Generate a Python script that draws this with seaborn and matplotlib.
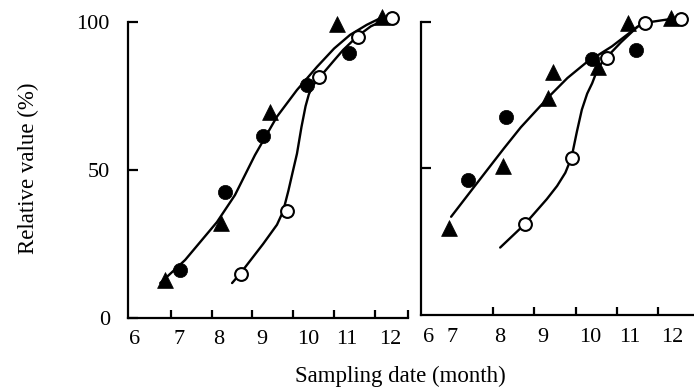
import numpy as np
import pandas as pd
import seaborn as sns
import matplotlib.pyplot as plt
from matplotlib.ticker import FixedLocator, NullFormatter

sns.set_theme(style="white")
plt.rcParams['font.family'] = ['Liberation Serif', 'DejaVu Serif']

month_labels = ["6", "7", "8", "9", "10", "11", "12"]

# ---- Left panel ----
L_tri_x = [6.86, 8.23, 9.43, 11.07, 12.18]
L_tri_y = [12.8, 32.0, 69.6, 99.3, 101.8]
L_dot_x = [7.23, 8.33, 9.26, 10.34, 11.37]
L_dot_y = [16.2, 42.6, 61.5, 78.7, 89.5]
L_open_x = [8.72, 9.85, 10.63, 11.59, 12.42]
L_open_y = [14.9, 36.1, 81.4, 95.0, 101.3]

L_fit1_x = [6.74, 7.35, 8.13, 8.57, 9.06, 9.60, 10.09, 10.58, 11.00, 11.39, 11.80, 12.20]
L_fit1_y = [11.8, 19.6, 32.4, 41.5, 55.0, 68.0, 77.0, 84.8, 91.0, 95.6, 99.0, 101.7]
L_fit2_x = [8.50, 8.70, 9.26, 9.60, 9.75, 9.88, 9.98, 10.09, 10.20, 10.30, 10.38, 10.48, 10.66, 11.00, 11.22, 11.56, 11.90, 12.30]
L_fit2_y = [11.8, 15.0, 25.0, 31.5, 36.0, 43.0, 49.0, 55.5, 64.5, 71.5, 75.5, 78.5, 81.5, 87.0, 90.5, 95.0, 98.5, 101.0]

# ---- Right panel ----
R_tri_x = [6.93, 8.24, 9.32, 9.44, 10.53, 11.26, 12.32]
R_tri_y = [29.7, 50.7, 74.0, 82.8, 84.5, 99.6, 101.3]
R_dot_x = [7.40, 8.30, 10.40, 11.46]
R_dot_y = [46.2, 67.5, 87.2, 90.5]
R_open_x = [8.77, 9.90, 10.76, 11.67, 12.56]
R_open_y = [31.0, 53.7, 87.8, 99.6, 101.0]

R_fit1_x = [6.98, 7.50, 8.26, 8.67, 9.39, 9.80, 10.25, 10.88, 11.50]
R_fit1_y = [33.5, 43.0, 56.8, 64.0, 75.0, 80.8, 86.0, 91.6, 98.3]
R_fit2_x = [8.17, 8.77, 9.30, 9.55, 9.75, 9.90, 10.03, 10.15, 10.28, 10.40, 10.55, 10.76, 11.10, 11.50, 11.67, 12.24]
R_fit2_y = [23.0, 31.0, 39.5, 44.0, 48.5, 53.7, 62.5, 70.0, 75.5, 79.0, 84.5, 88.0, 93.0, 98.3, 99.6, 100.8]

panels = [
    dict(tri=(L_tri_x, L_tri_y), dot=(L_dot_x, L_dot_y), open=(L_open_x, L_open_y),
         fits=[(L_fit1_x, L_fit1_y), (L_fit2_x, L_fit2_y)],
         xlim=(5.95, 12.81), ticks=[7, 8, 9, 10, 11, 12, 12.81],
         label_at=[6.10, 7.20, 8.16, 9.24, 10.36, 11.32, 12.37],
         yticks=[0, 50, 100], ylabels=True,
         rect=[128 / 694, 74 / 392, 280 / 694, 308 / 392]),
    dict(tri=(R_tri_x, R_tri_y), dot=(R_dot_x, R_dot_y), open=(R_open_x, R_open_y),
         fits=[(R_fit1_x, R_fit1_y), (R_fit2_x, R_fit2_y)],
         xlim=(6.25, 12.87), ticks=[7, 8, 9, 10, 11, 12],
         label_at=[6.44, 7.00, 8.17, 9.20, 10.35, 11.32, 12.34],
         yticks=[50, 100], ylabels=False,
         rect=[421 / 694, 77 / 392, 273 / 694, 305 / 392]),
]

fig = plt.figure(figsize=(6.94, 3.92), dpi=100)
fig.patch.set_facecolor("white")

for p in panels:
    ax = fig.add_axes(p["rect"])
    ax.set_facecolor("white")

    for fx, fy in p["fits"]:
        sns.lineplot(x=fx, y=fy, ax=ax, color="black", lw=1.7,
                     sort=False, estimator=None, zorder=2)

    sns.scatterplot(x=p["tri"][0], y=p["tri"][1], ax=ax, marker="^", s=130,
                    color="black", edgecolor="black", linewidth=0.5, zorder=3)
    sns.scatterplot(x=p["dot"][0], y=p["dot"][1], ax=ax, marker="o", s=105,
                    color="black", edgecolor="black", linewidth=0.5, zorder=3)
    sns.scatterplot(x=p["open"][0], y=p["open"][1], ax=ax, marker="o", s=85,
                    color="white", edgecolor="black", linewidth=1.5, zorder=4)

    for art in list(ax.lines) + list(ax.collections):
        art.set_clip_on(False)

    ax.set_xlim(*p["xlim"])
    ax.set_ylim(0, 104)

    for side in ("top", "right"):
        ax.spines[side].set_visible(False)
    for side in ("left", "bottom"):
        ax.spines[side].set_color("black")
        ax.spines[side].set_linewidth(1.6)
    ax.spines["left"].set_bounds(0, 100)

    # tick marks (minor) and tick labels (major, no mark)
    ax.xaxis.set_minor_locator(FixedLocator(p["ticks"]))
    ax.xaxis.set_minor_formatter(NullFormatter())
    ax.set_xticks(p["label_at"])
    ax.set_xticklabels(month_labels)
    ax.tick_params(axis="x", which="minor", direction="in", length=6,
                   width=1.6, color="black", bottom=True)
    ax.tick_params(axis="x", which="major", length=0, pad=9,
                   labelsize=16, labelcolor="black", bottom=True)

    ax.set_yticks(p["yticks"])
    if p["ylabels"]:
        ax.set_yticklabels([str(v) for v in p["yticks"]])
    else:
        ax.set_yticklabels([])
    ax.tick_params(axis="y", which="major", direction="in", length=7,
                   width=1.6, color="black", pad=13, labelsize=16,
                   labelcolor="black", left=True)
    ax.set_xlabel("")
    ax.set_ylabel("")
    ax.grid(False)

fig.text(28 / 694, 1 - 168 / 392, "Relative value (%)", rotation=90,
         ha="center", va="center", fontsize=16.5, color="black")
fig.text(400 / 694, 1 - 376 / 392, "Sampling date (month)",
         ha="center", va="center", fontsize=16.5, color="black")

fig.savefig("out.png", dpi=100, facecolor="white")
